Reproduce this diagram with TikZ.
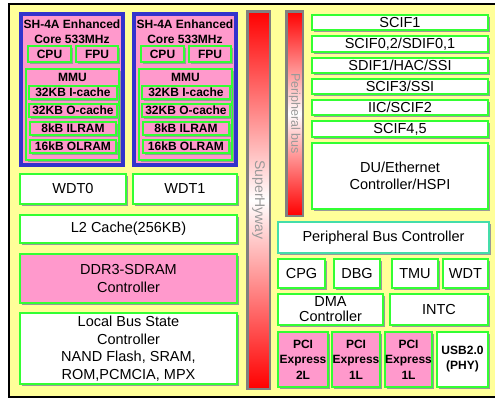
\documentclass[tikz,border=0pt]{standalone}
\usepackage{fontspec}
\setmainfont{Liberation Sans}
\usetikzlibrary{shadows}
\definecolor{chipyellow}{HTML}{FFFF99}
\definecolor{blkgreen}{HTML}{33FF33}
\definecolor{corepink}{HTML}{FF99CC}
\definecolor{coreblue}{HTML}{3333CC}
\definecolor{pbcteal}{HTML}{44DDAA}
\definecolor{busgray}{HTML}{808080}
\begin{document}
\begin{tikzpicture}
[
    x=1pt, y=-1pt,
    shade/.style={drop shadow={shadow xshift=2pt, shadow yshift=-2pt, fill=black!40, opacity=1}},
    blk/.style={draw=blkgreen, line width=1.2pt, fill=white, inner sep=0pt, align=center,
        font=\fontsize{14.5}{17.5}\selectfont, shade},
    pinkblk/.style={blk, fill=corepink},
    coreblk/.style={pinkblk, font=\bfseries\fontsize{12}{15}\selectfont},
    coretitle/.style={inner sep=0pt, align=center, font=\bfseries\fontsize{12}{15}\selectfont},
    corebox/.style={draw=coreblue, line width=4pt, fill=corepink, inner sep=0pt, shade},
    pciblk/.style={pinkblk, font=\bfseries\fontsize{12}{15.5}\selectfont},
    bus/.style={draw=busgray, line width=2.5pt, top color=red, bottom color=red, middle color=white, inner sep=0pt},
    buslabel/.style={text=black!40, rotate=-90, inner sep=0pt},
]
\useasboundingbox (0,0) rectangle (495,399);
\fill[white] (0,0) rectangle (495,399);
\draw[line width=2pt, fill=chipyellow] (9,4) rectangle (510,397);

% CPU cores
\foreach \i/\dx in {1/0, 2/113} {
\begin{scope}[xshift=\dx pt]
\node[corebox, minimum width=102pt, minimum height=151pt] (core\i) at (72,89.5) {};
\node[coretitle] (title\i) at (72,31.5) {SH-4A Enhanced\\Core 533MHz};
\node[coreblk, minimum width=43pt, minimum height=16pt] (cpu\i) at (49.5,54) {CPU};
\node[coreblk, minimum width=42pt, minimum height=16pt] (fpu\i) at (97,54) {FPU};
\node[pinkblk, minimum width=93pt, minimum height=91pt] (mmu\i) at (72.5,114.5) {};
\node[coretitle] (mmulabel\i) at (72.5,77) {MMU};
\node[coreblk, minimum width=88pt, minimum height=13pt] (icache\i) at (73,92.5) {32KB I-cache};
\node[coreblk, minimum width=88pt, minimum height=13pt] (ocache\i) at (73,110.5) {32KB O-cache};
\node[coreblk, minimum width=86pt, minimum height=13pt] (ilram\i) at (73,128.5) {8kB ILRAM};
\node[coreblk, minimum width=86pt, minimum height=13pt] (olram\i) at (73,146.5) {16kB OLRAM};
\end{scope}
}

% left column
\node[blk, minimum width=106pt, minimum height=30pt] (wdt0) at (73,189) {WDT0};
\node[blk, minimum width=104pt, minimum height=30pt] (wdt1) at (185,189) {WDT1};
\node[blk, minimum width=217pt, minimum height=28pt] (l2) at (128.5,229) {L2 Cache(256KB)};
\node[pinkblk, minimum width=217pt, minimum height=49pt] (ddr3) at (128.5,278.5) {DDR3-SDRAM\\Controller};
\node[blk, minimum width=217pt, minimum height=71pt] (lbsc) at (128.5,348.5)
    {Local Bus State\\Controller\\NAND Flash, SRAM,\\ROM,PCMCIA, MPX};

% buses
\node[bus, minimum width=22.5pt, minimum height=377.5pt] (shwy) at (258.5,200) {};
\node[buslabel, font=\fontsize{14}{16}\selectfont] (shwylabel) at (shwy) {SuperHyway};
\node[bus, minimum width=16.5pt, minimum height=204.5pt] (pbus) at (294.5,113.5) {};
\node[buslabel, font=\fontsize{12.5}{15}\selectfont] (pbuslabel) at (pbus) {Peripheral bus};

% right column
\node[blk, minimum width=176pt, minimum height=15pt] (scif1) at (400,22.5) {SCIF1};
\node[blk, minimum width=176pt, minimum height=16pt] (scif02) at (400,44) {SCIF0,2/SDIF0,1};
\node[blk, minimum width=176pt, minimum height=15pt] (sdif1) at (400,65.5) {SDIF1/HAC/SSI};
\node[blk, minimum width=176pt, minimum height=15pt] (scif3) at (400,86.5) {SCIF3/SSI};
\node[blk, minimum width=176pt, minimum height=15pt] (iic) at (400,107.5) {IIC/SCIF2};
\node[blk, minimum width=176pt, minimum height=16pt] (scif45) at (400,129) {SCIF4,5};
\node[blk, minimum width=176pt, minimum height=66pt] (du) at (400,176) {DU/Ethernet\\Controller/HSPI};
\node[blk, draw=pbcteal, minimum width=211pt, minimum height=31pt] (pbc) at (383.5,237.5) {Peripheral Bus Controller};
\node[blk, minimum width=47pt, minimum height=29pt] (cpg) at (301.5,273.5) {CPG};
\node[blk, minimum width=46pt, minimum height=29pt] (dbg) at (357,273.5) {DBG};
\node[blk, minimum width=46pt, minimum height=29pt] (tmu) at (415,273.5) {TMU};
\node[blk, minimum width=45pt, minimum height=29pt] (wdt) at (465.5,273.5) {WDT};
\node[blk, minimum width=105pt, minimum height=31pt, font=\fontsize{14.5}{15}\selectfont] (dma) at (330.5,309.5) {DMA\\Controller};
\node[blk, minimum width=98pt, minimum height=31pt] (intc) at (439,309.5) {INTC};
\node[pciblk, minimum width=50pt, minimum height=55pt] (pci1) at (303,359.5) {PCI\\Express\\2L};
\node[pciblk, minimum width=48pt, minimum height=55pt] (pci2) at (356,359.5) {PCI\\Express\\1L};
\node[pciblk, minimum width=47pt, minimum height=55pt] (pci3) at (408.5,359.5) {PCI\\Express\\1L};
\node[blk, minimum width=51pt, minimum height=55pt, font=\bfseries\fontsize{12}{15}\selectfont] (usb) at (462.5,359.5) {USB2.0\\(PHY)};
\end{tikzpicture}
\end{document}
